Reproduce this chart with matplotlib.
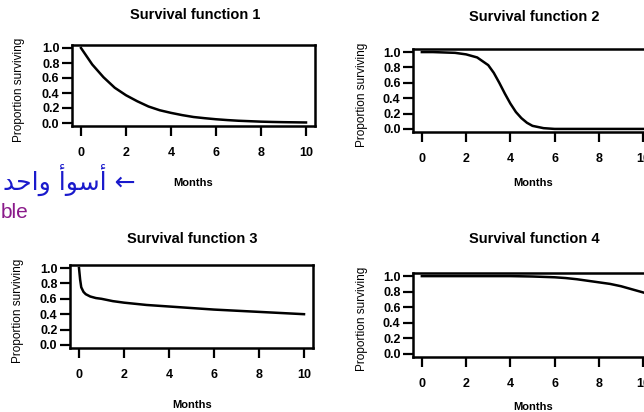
import matplotlib.pyplot as plt
import numpy as np

# --- data (months, proportion surviving) ---

t1 = [0, 0.5, 1, 1.5, 2, 2.5, 3, 3.5, 4, 4.5, 5, 5.5, 6, 6.5, 7, 7.5, 8, 8.5, 9, 9.5, 10]
s1 = [1.0, 0.78, 0.61, 0.47, 0.37, 0.29, 0.22, 0.17, 0.135, 0.105, 0.08,
      0.064, 0.05, 0.039, 0.03, 0.024, 0.018, 0.014, 0.011, 0.009, 0.007]

t2 = [0, 0.5, 1, 1.5, 2, 2.5, 3, 3.25, 3.5, 3.75, 4, 4.25, 4.5, 4.75, 5, 5.5, 6, 7, 8, 9, 10]
s2 = [1.0, 1.0, 0.995, 0.99, 0.97, 0.93, 0.83, 0.73, 0.6, 0.46, 0.33, 0.22,
      0.14, 0.08, 0.04, 0.01, 0.0, 0.0, 0.0, 0.0, 0.0]

t3 = [0, 0.05, 0.1, 0.2, 0.3, 0.5, 0.75, 1, 1.5, 2, 3, 4, 5, 6, 7, 8, 9, 10]
s3 = [1.0, 0.85, 0.75, 0.69, 0.66, 0.63, 0.61, 0.6, 0.57, 0.55, 0.52, 0.5,
      0.48, 0.46, 0.445, 0.43, 0.415, 0.40]

t4 = [0, 1, 2, 3, 4, 5, 5.5, 6, 6.5, 7, 7.5, 8, 8.5, 9, 9.5, 10]
s4 = [1.0, 1.0, 1.0, 1.0, 1.0, 0.995, 0.99, 0.985, 0.975, 0.96, 0.94, 0.92,
      0.9, 0.87, 0.83, 0.79]

panels = [
    ("Survival function 1", t1, s1),
    ("Survival function 2", t2, s2),
    ("Survival function 3", t3, s3),
    ("Survival function 4", t4, s4),
]

yticks = [0.0, 0.2, 0.4, 0.6, 0.8, 1.0]
xticks = [0, 2, 4, 6, 8, 10]

plt.rcParams['font.family'] = ['Liberation Sans', 'DejaVu Sans']

W, H = 644, 412
fig = plt.figure(figsize=(W / 100, H / 100), dpi=100)

# axes boxes in pixels: left, top, right, bottom
boxes = [(72, 45, 315, 126), (413, 49, 652, 132),
         (70, 265, 313, 348), (413, 273, 652, 357)]
title_pos = [(195, 15), (534, 17), (192, 239), (534, 239)]
months_pos = [(193, 183), (533, 183), (192, 405), (533, 407)]
ylab_x = [19, 362, 18, 362]

for (title, t, s), (l, tp, r, b), (tx, ty), (mx, my), yx in zip(
        panels, boxes, title_pos, months_pos, ylab_x):
    ax = fig.add_axes([l / W, 1 - b / H, (r - l) / W, (b - tp) / H])
    ax.plot(t, s, color='black', lw=1.8)
    ax.set_xlim(-0.4, 10.4)
    ax.set_ylim(-0.04, 1.04)
    ax.set_xticks(xticks)
    ax.set_yticks(yticks)
    ax.set_xticklabels([str(x) for x in xticks], fontsize=9, fontweight='bold')
    ax.set_yticklabels(['%.1f' % y for y in yticks], fontsize=9, fontweight='bold')
    ax.tick_params(axis='x', length=7, width=1.6, pad=8)
    ax.tick_params(axis='y', length=7, width=1.6, pad=2)
    for sp in ax.spines.values():
        sp.set_linewidth(1.8)
    fig.text(tx / W, 1 - ty / H, title, ha='center', va='center',
             fontsize=10.5, fontweight='bold')
    fig.text(mx / W, 1 - my / H, 'Months', ha='center', va='center',
             fontsize=8, fontweight='bold')
    fig.text(yx / W, 1 - ((tp + b) / 2 + 4) / H, 'Proportion surviving',
             rotation=90, ha='center', va='center', fontsize=8.5)

# handwritten notes on the page
fig.text(3 / W, 1 - 180 / H,
         '\uFEAA\uFEA3\uFE8D\uFEED \uFE83\uFEEE\uFEB3\uFE83 \u2190',
         color='#1a1acc', fontsize=18, ha='left', va='center',
         family=['DejaVu Sans'])
fig.text(1 / W, 1 - 213 / H, 'ble', color='#8a1a8a', fontsize=15,
         ha='left', va='center')

fig.savefig('out.png', dpi=100)
